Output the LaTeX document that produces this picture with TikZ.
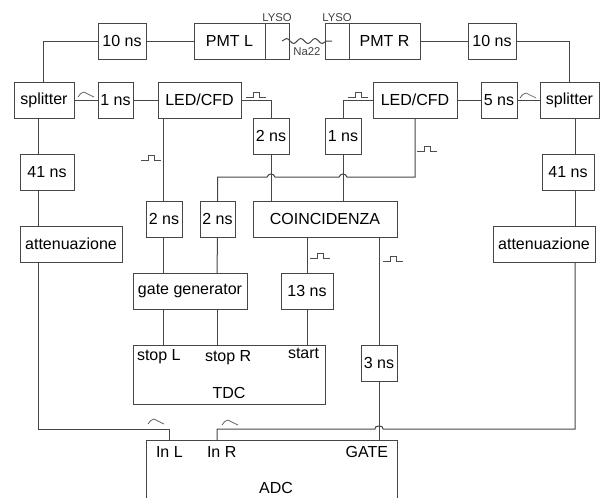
\documentclass[tikz,border=0pt]{standalone}
\usepackage{fontspec}
\setmainfont{Liberation Sans}
\usetikzlibrary{positioning,decorations.pathmorphing}
\newdimen\unitpx \unitpx=.75pt
\definecolor{wirecol}{RGB}{70,70,70}

\begin{document}
\begin{tikzpicture}[x=.75pt,y=-.75pt,
    box/.style={draw=wirecol,line width=.75pt,inner sep=0pt,outer sep=0pt,align=center,font=\fontsize{12}{14}\selectfont,minimum height=36\unitpx},
    lab/.style={inner sep=0pt,outer sep=0pt,font=\fontsize{12}{14}\selectfont},
    tinylab/.style={inner sep=0pt,outer sep=0pt,text=black!75,font=\fontsize{8.5}{10}\selectfont},
    wire/.style={draw=wirecol,line width=.75pt},
    sig/.style={draw=black!70,line width=.5pt},
    hop/.style={to path={.. controls +(1.5,-4) and +(-1.5,-4) .. (\tikztotarget)}},
    sqpulse/.pic={\draw[sig] (0,0) -- (7,0) -- (7,-5) -- (13,-5) -- (13,0) -- (20,0);},
    bump/.pic={\draw[sig] (0,0) .. controls (2,-3) and (4,-5) .. (6,-5) -- (16,0);}]
    \useasboundingbox (0,0) rectangle (600,497);
    \clip (0,0) rectangle (600,497);
    % detector row
    \node[box,minimum width=71\unitpx] (pmtL) at (229.5,41) {PMT L};
    \node[box,minimum width=24\unitpx,right=0pt of pmtL] (lysoL) {};
    \node[box,minimum width=24\unitpx,right=36\unitpx of lysoL] (lysoR) {};
    \node[box,minimum width=71\unitpx,right=0pt of lysoR] (pmtR) {PMT R};
    \node[box,minimum width=48\unitpx,left=48\unitpx of pmtL] (d10L) {10 ns};
    \node[box,minimum width=48\unitpx,right=48\unitpx of pmtR] (d10R) {10 ns};
    \node[tinylab,above=1\unitpx of lysoL] (tagL) {LYSO};
    \node[tinylab,above=1\unitpx of lysoR] (tagR) {LYSO};
    \node[tinylab,right=18\unitpx of lysoL.south east,anchor=south,yshift=3\unitpx] (na) {Na22};
    \coordinate[left=7\unitpx of lysoL.east] (srcL);
    \coordinate[right=7\unitpx of lysoR.west] (srcR);
    % discriminators
    \node[box,minimum width=35\unitpx,below=23\unitpx of d10L.south west,anchor=north west] (d1L) {1 ns};
    \node[box,minimum width=60\unitpx,left=24\unitpx of d1L] (splitL) {splitter};
    \node[box,minimum width=83\unitpx,right=25\unitpx of d1L] (ledL) {LED/CFD};
    \node[box,minimum width=36\unitpx,below=23\unitpx of d10R.south east,anchor=north east,xshift=1\unitpx] (d5) {5 ns};
    \node[box,minimum width=59\unitpx,right=23\unitpx of d5] (splitR) {splitter};
    \node[box,minimum width=84\unitpx,left=24\unitpx of d5] (ledR) {LED/CFD};
    \node[box,minimum width=36\unitpx,below=0pt of ledL.south east,anchor=north west,xshift=12\unitpx] (d2C) {2 ns};
    \node[box,minimum width=36\unitpx,below=0pt of ledR.south west,anchor=north east,xshift=-12\unitpx] (d1R) {1 ns};
    % long branches
    \node[box,minimum width=54\unitpx,below=36\unitpx of splitL.south east,anchor=north east] (d41L) {41 ns};
    \node[box,minimum width=102\unitpx,below=36\unitpx of d41L.south west,anchor=north west] (attL) {attenuazione};
    \node[box,minimum width=52\unitpx,below=36\unitpx of splitR.south east,anchor=north east,xshift=-5\unitpx] (d41R) {41 ns};
    \node[box,minimum width=102\unitpx,below=36\unitpx of d41R.south east,anchor=north east,xshift=1\unitpx] (attR) {attenuazione};
    % coincidence and TDC
    \node[box,minimum width=144\unitpx,below=47\unitpx of d2C.south west,anchor=north west] (coinc) {COINCIDENZA};
    \node[box,minimum width=35\unitpx,left=18\unitpx of coinc] (d2B) {2 ns};
    \node[box,minimum width=36\unitpx,left=18\unitpx of d2B] (d2A) {2 ns};
    \node[box,minimum width=114\unitpx,below=36\unitpx of d2A.south west,anchor=north west,xshift=-13\unitpx] (gate) {gate generator};
    \node[box,minimum width=52\unitpx,below=36\unitpx of coinc.south west,anchor=north west,xshift=28\unitpx] (d13) {13 ns};
    \node[box,minimum width=192\unitpx,minimum height=59\unitpx,below=36\unitpx of gate.south west,anchor=north west] (tdc) {};
    \node[box,minimum width=36\unitpx,below=108\unitpx of coinc.south east,anchor=north east] (d3) {3 ns};
    \node[box,minimum width=251\unitpx,minimum height=80\unitpx,below=59\unitpx of d3.south east,anchor=north east] (adc) {};
    \node[lab,below right=4\unitpx and 4\unitpx of tdc.north west] (stopL) {stop L};
    \node[lab,below right=5\unitpx and 72\unitpx of tdc.north west] (stopR) {stop R};
    \node[lab,below right=3\unitpx and 155\unitpx of tdc.north west] (start) {start};
    \node[lab,below=42\unitpx of tdc.north] (tdcname) {TDC};
    \node[lab,below right=6\unitpx and 10\unitpx of adc.north west] (inL) {In L};
    \node[lab,below right=6\unitpx and 61\unitpx of adc.north west] (inR) {In R};
    \node[lab,below left=6\unitpx and 9\unitpx of adc.north east] (gatein) {GATE};
    \node[lab,below=42\unitpx of adc.north,xshift=4.5\unitpx] (adcname) {ADC};
    % connectors
    \draw[wire,decorate,decoration={snake,segment length=14.3\unitpx,amplitude=2.5\unitpx}] (srcL) -- (srcR);
    \draw[wire] (d10L) -- (pmtL);
    \draw[wire] (pmtR) -- (d10R);
    \draw[wire] (d10L.west) -| ([xshift=-1\unitpx]splitL.north);
    \draw[wire] (d10R.east) -| (splitR.north);
    \draw[wire] (splitL) -- (d1L);
    \draw[wire] (d1L) -- (ledL);
    \draw[wire] (ledR) -- (d5);
    \draw[wire] (d5) -- (splitR);
    \draw[wire] (ledL.east) -| (d2C.north);
    \draw[wire] (ledR.west) -| (d1R.north);
    \draw[wire] ([xshift=-6\unitpx]splitL.south) -- ([xshift=-9\unitpx]d41L.north);
    \draw[wire] ([xshift=-9\unitpx]d41L.south) -- ([xshift=-33\unitpx]attL.north);
    \draw[wire] ([xshift=5.5\unitpx]splitR.south) -- ([xshift=7\unitpx]d41R.north);
    \draw[wire] ([xshift=7\unitpx]d41R.south) -- ([xshift=31\unitpx]attR.north);
    \draw[wire] ([xshift=-36.5\unitpx]ledL.south) -- ([xshift=-1\unitpx]d2A.north);
    \draw[wire] ([xshift=-1\unitpx]d2A.south) -- ([xshift=-27\unitpx]gate.north);
    \draw[wire] (d2B.south) -- ([xshift=27\unitpx]gate.north);
    \draw[wire] ([xshift=-27\unitpx]gate.south) -- ([xshift=-66\unitpx]tdc.north);
    \draw[wire] ([xshift=27\unitpx]gate.south) -- ([xshift=-12\unitpx]tdc.north);
    \draw[wire] (d2C.south) -- ([xshift=-54\unitpx]coinc.north);
    \draw[wire] (d1R.south) -- ([xshift=18\unitpx]coinc.north);
    \draw[wire] ([xshift=-18\unitpx]coinc.south) -- (d13.north);
    \draw[wire] (d13.south) -- ([xshift=78\unitpx]tdc.north);
    \draw[wire] ([xshift=54\unitpx]coinc.south) -- (d3.north);
    \draw[wire] (d3.south) -- ([xshift=107.5\unitpx]adc.north);
    % crossings
    \coordinate[below=59\unitpx of ledR.south] (busT);
    \coordinate (hopA) at (d2C.south |- busT);
    \coordinate (hopB) at (d1R.south |- busT);
    \draw[wire] (d2B.north) |- ([xshift=-4\unitpx]hopA) to[hop] ([xshift=4\unitpx]hopA) -- ([xshift=-4\unitpx]hopB) to[hop] ([xshift=4\unitpx]hopB) -- (busT) -- (ledR.south);
    \coordinate[above=11\unitpx of adc.north] (busIn);
    \coordinate (hopG) at (d3.south |- busIn);
    \draw[wire] ([xshift=-33\unitpx]attL.south) |- ([xshift=-102.5\unitpx]busIn) -- ([xshift=-102.5\unitpx]adc.north);
    \draw[wire] ([xshift=31\unitpx]attR.south) |- ([xshift=4\unitpx]hopG) to[hop] ([xshift=-4\unitpx]hopG) -- ([xshift=-54.5\unitpx]busIn) -- ([xshift=-54.5\unitpx]adc.north);
    % signal shapes
    \foreach \px/\py in {246/97,141/160,348/97,417/151,310/258,383/261}
      \pic at (\px,\py) {sqpulse};
    \foreach \px/\py in {78/97,520/98,148/424,222/425}
      \pic at (\px,\py) {bump};
  \end{tikzpicture}
\end{document}
